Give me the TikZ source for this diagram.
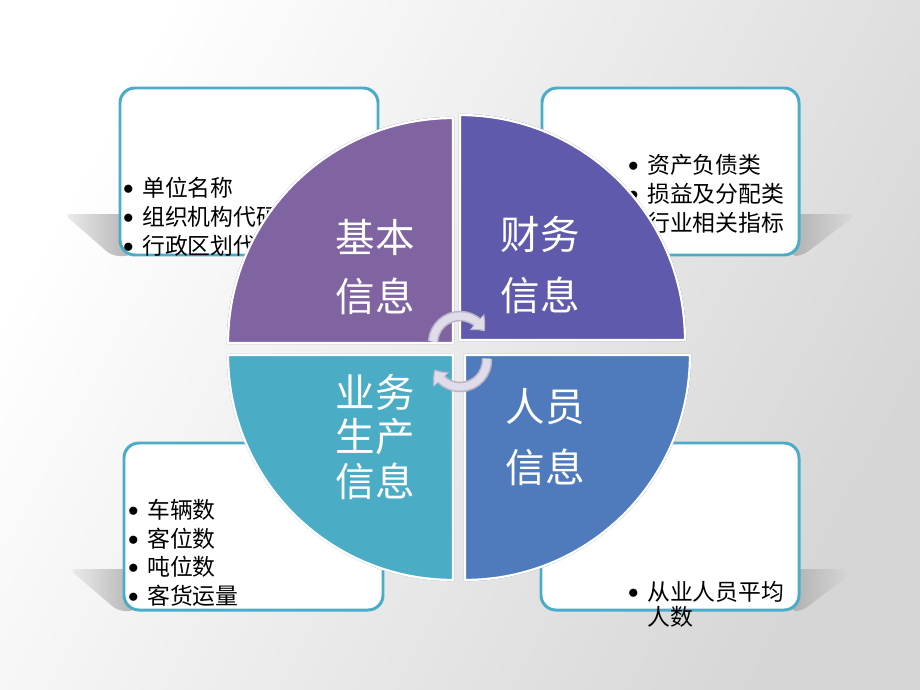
\documentclass[tikz,border=0pt]{standalone}
\usepackage{fontspec}
\newfontfamily\cjk{Noto Sans CJK SC}
\usetikzlibrary{arrows.meta,bending}

\definecolor{jbpurple}{HTML}{8064A2}
\definecolor{cwviolet}{HTML}{5F5AAB}
\definecolor{ryblue}{HTML}{4F7BBD}
\definecolor{ywteal}{HTML}{4BACC6}
\definecolor{boxteal}{HTML}{4AADC8}
\definecolor{arrowlav}{HTML}{E0DCEA}
\definecolor{arrowrim}{HTML}{BAB6C8}

\newcommand\lbullet{\makebox[15.9pt][c]{\raisebox{1.2pt}{$\bullet$}}}

\tikzset{
  infobox/.style={draw=boxteal, line width=1.7pt, fill=white, rounded corners=8.5pt},
  leftshadow/.style={left color=black!7, right color=black!30, rounded corners=4pt},
  rightshadow/.style={left color=black!31, right color=black!14, rounded corners=4pt},
  item/.style={anchor=west, inner sep=0pt, font=\cjk\fontsize{13}{15}\selectfont},
  quad/.style={draw=white, line width=1.3pt},
  quadlabel/.style={text=white, align=center, inner sep=0pt},
  rimarrow/.style={draw=arrowrim, line width=6pt, -{Triangle[length=7pt, width=12pt, bend]}},
  fillarrow/.style={draw=arrowlav, line width=4.2pt, shorten >=1.1pt, -{Triangle[length=5.6pt, width=9.6pt, bend]}},
}

\begin{document}
\begin{tikzpicture}[x=0.02cm, y=-0.02cm]
  \useasboundingbox (0,0) rectangle (920,690);
  \shade[top color=white, bottom color=black!16, shading angle=62] (0,0) rectangle (920,690);

  % shadows beside the boxes
  \shade[leftshadow] (64,214) -- (132,214) -- (132,256) -- (112,256) -- cycle;
  \shade[rightshadow] (790,214) -- (857,214) -- (802,256) -- (790,256) -- cycle;
  \shade[leftshadow] (69,569) -- (136,569) -- (136,611) -- (118,611) -- cycle;
  \shade[rightshadow] (790,569) -- (857,569) -- (802,611) -- (790,611) -- cycle;

  % boxes
  \draw[infobox] (120,88) rectangle (378,255);
  \draw[infobox] (542,88) rectangle (799,255);
  \draw[infobox] (124,443) rectangle (383,610);
  \draw[infobox] (541,443) rectangle (799,610);

  \foreach \t [count=\i] in {单位名称,组织机构代码,行政区划代码}
    \node[item] (jb\i) at (114,159+29*\i) {\lbullet\t};
  \foreach \t [count=\i] in {资产负债类,损益及分配类,行业相关指标}
    \node[item] (cw\i) at (619,136+29*\i) {\lbullet\t};
  \foreach \t [count=\i] in {车辆数,客位数,吨位数,客货运量}
    \node[item] (yw\i) at (119,481.5+28.5*\i) {\lbullet\t};
  \node[item] (ry1) at (619,592) {\lbullet 从业人员平均};
  \node[item] (ry2) at (647,617) {人数};

  % the four quarters
  \fill[quad, jbpurple] (453,343) -- ++(180:225) arc[start angle=180, end angle=270, radius=225] -- cycle;
  \fill[quad, cwviolet] (460,340) -- ++(270:225) arc[start angle=270, end angle=360, radius=225] -- cycle;
  \fill[quad, ywteal] (453,355) -- ++(180:225) arc[start angle=180, end angle=90, radius=225] -- cycle;
  \fill[quad, ryblue] (465,355) -- ++(0:225) arc[start angle=0, end angle=90, radius=225] -- cycle;
  \draw[quad] (453,343) -- ++(180:225) arc[start angle=180, end angle=270, radius=225] -- cycle;
  \draw[quad] (460,340) -- ++(270:225) arc[start angle=270, end angle=360, radius=225] -- cycle;
  \draw[quad] (453,355) -- ++(180:225) arc[start angle=180, end angle=90, radius=225] -- cycle;
  \draw[quad] (465,355) -- ++(0:225) arc[start angle=0, end angle=90, radius=225] -- cycle;

  \node[quadlabel, font=\cjk\fontsize{22.5}{34}\selectfont] (jb) at (375,267) {基本\\信息};
  \node[quadlabel, font=\cjk\fontsize{22.5}{35}\selectfont] (cw) at (540,265) {财务\\信息};
  \node[quadlabel, font=\cjk\fontsize{22.5}{25.5}\selectfont] (yw) at (375,437) {业务\\生产\\信息};
  \node[quadlabel, font=\cjk\fontsize{22.5}{34.5}\selectfont] (ry) at (545,437) {人员\\信息};

  % circular arrows
  \draw[rimarrow] (460,343) ++(183:27) arc[start angle=183, end angle=335, radius=27];
  \draw[fillarrow] (460,343) ++(183:27) arc[start angle=183, end angle=335, radius=27];
  \draw[rimarrow] (460,360) ++(-3:27) arc[start angle=-3, end angle=160, radius=27];
  \draw[fillarrow] (460,360) ++(-3:27) arc[start angle=-3, end angle=160, radius=27];
\end{tikzpicture}
\end{document}
